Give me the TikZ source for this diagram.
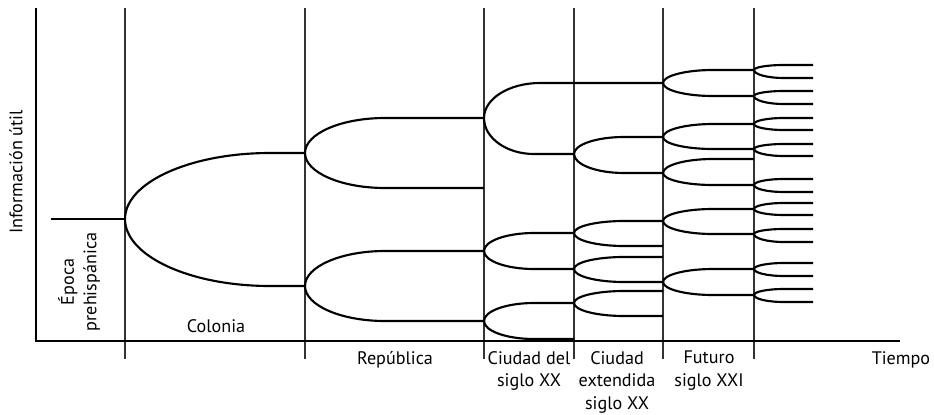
\documentclass[tikz,border=0pt]{standalone}
\usepackage{fontspec}
\setmainfont{PT Sans}
\begin{document}
\begin{tikzpicture}[x=0.75pt,y=-0.75pt,
  br/.style={line width=1.6pt,black},
  sep/.style={line width=0.8pt,black!80},
  ax/.style={line width=1.8pt,black},
  lab/.style={font=\fontsize{13.6}{16.9}\selectfont,align=center,inner sep=0pt}]
\useasboundingbox (0,0) rectangle (934,414);
\newcommand{\branch}[5]{%
  \draw[br] (#1,#2) .. controls (#1,{#2+0.552*(#4-#2)}) and ({#1+0.448*#5},#4) .. ({#1+#5},#4) -- (#3,#4);}
% separators
\foreach \x in {125,305,484,574,663,754} \draw[sep] (\x,8) -- (\x,359);
% axes
\coordinate (top) at (36,8);
\coordinate (orig) at (36,341);
\coordinate (xend) at (900,341);
\draw[ax] (top) -- (orig) -- (xend);
% stem
\coordinate (s0) at (51,219);
\coordinate (s1) at (125,219);
\draw[br] (s0) -- (s1);
% Colonia
\branch{125}{219}{305}{153}{145}
\branch{125}{219}{305}{286}{145}
% Republica
\foreach \yo/\yu/\yd in {153/118/188, 286/251/321}{
  \branch{305}{\yo}{484}{\yu}{80}
  \branch{305}{\yo}{484}{\yd}{80}}
% Ciudad del siglo XX
\branch{484}{118}{663}{83}{56}
\branch{484}{118}{574}{154}{50}
\foreach \yo/\yu/\yd in {251/233/269, 321/303/339}{
  \branch{484}{\yo}{574}{\yu}{50}
  \branch{484}{\yo}{574}{\yd}{50}}
% Ciudad extendida
\foreach \yo/\yu/\yd in {154/137/173, 233/221/246, 269/257/282, 303/291/316}{
  \branch{574}{\yo}{663}{\yu}{50}
  \branch{574}{\yo}{663}{\yd}{50}}
% Futuro
\foreach \yo/\yu/\yd in {83/70/96, 137/124/149, 173/159/185, 221/209/234, 282/269/295}{
  \branch{663}{\yo}{754}{\yu}{50}
  \branch{663}{\yo}{754}{\yd}{50}}
% last
\foreach \yo/\yu/\yd in {70/65/78, 96/91/104, 124/118/130, 149/144/156, 185/179/192, 209/203/215, 234/229/242, 269/263/276, 295/289/302}{
  \branch{754}{\yo}{813}{\yu}{30}
  \branch{754}{\yo}{813}{\yd}{30}}
% labels
\node[lab,rotate=90] (ylab) at (16,172) {Información útil};
\node[lab,rotate=90] (epoca) at (79,282) {Época\\prehispánica};
\node[lab] (colonia) at (216,326) {Colonia};
\node[lab,anchor=north] (rep) at (395,351) {República};
\node[lab,anchor=north] (c20) at (529,351) {Ciudad del\\siglo XX};
\node[lab,anchor=north] (cext) at (617,351) {Ciudad\\extendida\\siglo XX};
\node[lab,anchor=north] (fut) at (709,351) {Futuro\\siglo XXI};
\node[lab,anchor=north] (tiempo) at (901,351) {Tiempo};
\end{tikzpicture}
\end{document}
